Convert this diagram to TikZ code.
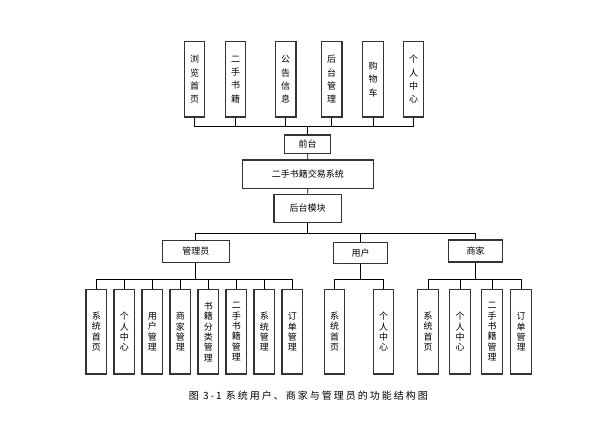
\documentclass[tikz,border=0pt]{standalone}
\usepackage{fontspec}
\setmainfont{Noto Sans CJK SC}
\tikzset{
  box/.style={draw=black!80, line width=1.2pt, inner sep=0pt, align=center, font=\fontsize{9}{10.3}\selectfont},
  tbox/.style={box, minimum width=20.5pt, minimum height=75.5pt, font=\fontsize{9}{13.3}\selectfont},
  bbox/.style={box, minimum width=20.5pt, minimum height=84.7pt},
  link/.style={draw=black, line width=0.8pt}
}
\begin{document}
\begin{tikzpicture}[x=1pt,y=-1pt]
\path[use as bounding box] (0,0) rectangle (605,444);
% top row
\node[tbox] (t1) at (194.5,79.3) {浏\\览\\首\\页};
\node[tbox] (t2) at (235.5,79.3) {二\\手\\书\\籍};
\node[tbox] (t3) at (285.7,79.3) {公\\告\\信\\息};
\node[tbox] (t4) at (331.7,79.3) {后\\台\\管\\理};
\node[tbox] (t5) at (373,79.3) {购\\物\\车};
\node[tbox] (t6) at (413.5,79.3) {个\\人\\中\\心};
% middle
\node[box, minimum width=46pt, minimum height=18.3pt] (qt) at (307.7,144.2) {前台};
\node[box, minimum width=131pt, minimum height=28.3pt] (sys) at (307.8,174.2) {二手书籍交易系统};
\node[box, minimum width=67.3pt, minimum height=28pt] (ht) at (307.7,208.3) {后台模块};
\node[box, minimum width=67pt, minimum height=21.6pt] (gly) at (195.8,251.5) {管理员};
\node[box, minimum width=54pt, minimum height=21.4pt] (yh) at (360.7,253) {用户};
\node[box, minimum width=54.4pt, minimum height=22pt] (sj) at (475.5,251) {商家};
% bottom: admin
\node[bbox] (a1) at (96.3,331.7) {系\\统\\首\\页};
\node[bbox] (a2) at (124.3,331.7) {个\\人\\中\\心};
\node[bbox] (a3) at (152.3,331.7) {用\\户\\管\\理};
\node[bbox] (a4) at (180.3,331.7) {商\\家\\管\\理};
\node[bbox] (a5) at (208.3,331.7) {书\\籍\\分\\类\\管\\理};
\node[bbox] (a6) at (236.3,331.7) {二\\手\\书\\籍\\管\\理};
\node[bbox] (a7) at (264.3,331.7) {系\\统\\管\\理};
\node[bbox] (a8) at (292.3,331.7) {订\\单\\管\\理};
% bottom: user
\node[bbox] (u1) at (334.5,331.7) {系\\统\\首\\页};
\node[bbox] (u2) at (383.5,331.7) {个\\人\\中\\心};
% bottom: merchant
\node[bbox] (m1) at (428,331.7) {系\\统\\首\\页};
\node[bbox] (m2) at (460,331.7) {个\\人\\中\\心};
\node[bbox] (m3) at (492,331.7) {二\\手\\书\\籍\\管\\理};
\node[bbox] (m4) at (521,331.7) {订\\单\\管\\理};
% caption
\node[font=\fontsize{10}{12}\selectfont\addfontfeature{LetterSpace=20}] (cap) at (308.3,396) {图 3-1 系统用户、商家与管理员的功能结构图};
% connectors
\foreach \i in {1,...,6} \draw[link] (qt.north) -- ++(0,-8) -| (t\i.south);
\draw[link] (qt) -- (sys);
\draw[link] (sys) -- (ht);
\foreach \n in {gly,yh,sj} \draw[link] (ht.south) -- ++(0,10.2) -| (\n.north);
\foreach \i in {1,...,8} \draw[link] (gly.south) -- ++(0,16) -| (a\i.north);
\foreach \i in {1,2} \draw[link] (yh.south) -- ++(0,14.6) -| (u\i.north);
\foreach \i in {1,...,4} \draw[link] (sj.south) -- ++(0,16.3) -| (m\i.north);
\end{tikzpicture}
\end{document}
